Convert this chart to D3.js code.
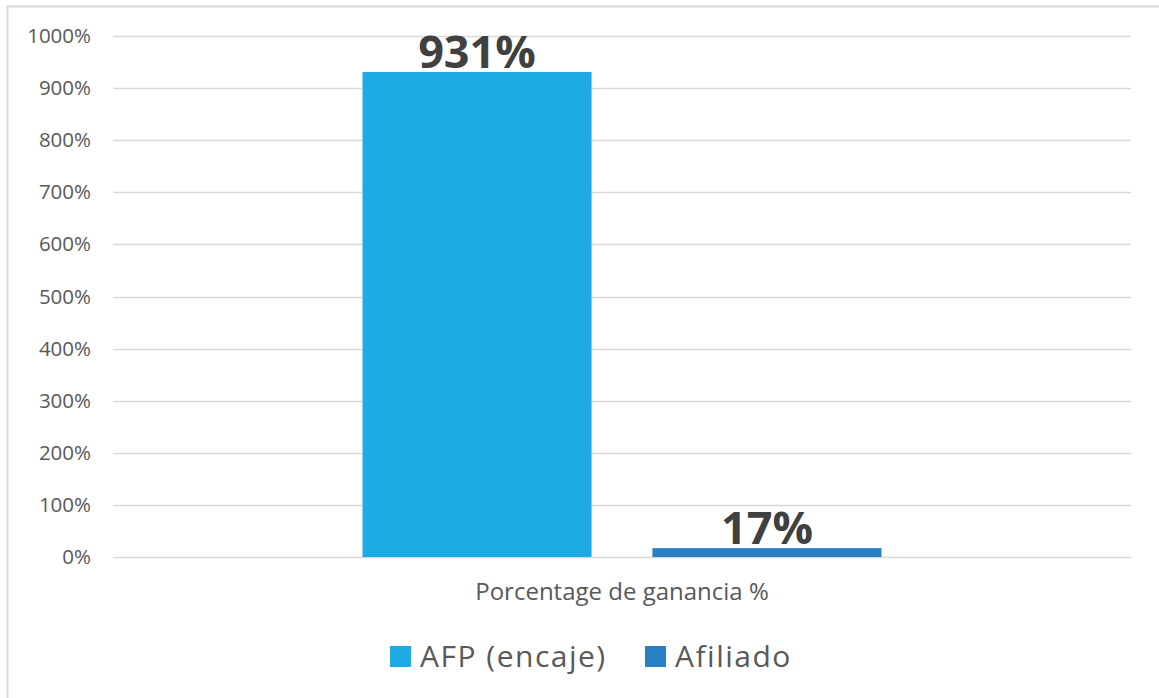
<!DOCTYPE html>
<html>
<head>
<meta charset="utf-8">
<script src="https://cdn.jsdelivr.net/npm/d3@7"></script>
<style>
  body { margin: 0; background: #fff; }
  text { font-family: "Open Sans", sans-serif; }
</style>
</head>
<body>
<svg width="1159" height="698"></svg>
<script>
var categories = ["Porcentage de ganancia %"];
var series = ["AFP (encaje)", "Afiliado"];
var values = [931, 17];
var colors = ["#1EABE3", "#2581C4"];
var yTicks = [0, 100, 200, 300, 400, 500, 600, 700, 800, 900, 1000];

var svg = d3.select("svg"),
    width = +svg.attr("width"),
    height = +svg.attr("height");

var plotLeft = 113, plotRight = 1131, plotTop = 36, plotBottom = 557;

// chart frame
svg.append("rect")
    .attr("x", 7.5).attr("y", 6.5)
    .attr("width", width).attr("height", height)
    .attr("fill", "none")
    .attr("stroke", "#d9d9d9")
    .attr("stroke-width", 2);

var y = d3.scaleLinear().domain([0, 1000]).range([plotBottom, plotTop]);

var x0 = d3.scaleBand()
    .domain(categories)
    .range([plotLeft, plotRight])
    .paddingOuter(0.4807);

var x1 = d3.scaleBand()
    .domain(series)
    .range([0, x0.bandwidth()])
    .paddingInner(0.21);

// gridlines
svg.append("g")
    .selectAll("line")
    .data(yTicks)
    .enter().append("line")
    .attr("x1", plotLeft).attr("x2", plotRight)
    .attr("y1", function(d) { return Math.round(y(d)) + 0.5; })
    .attr("y2", function(d) { return Math.round(y(d)) + 0.5; })
    .attr("stroke", "#d9d9d9")
    .attr("stroke-width", 1.3);

// y axis labels
var yAxis = d3.axisLeft(y)
    .tickValues(yTicks)
    .tickSize(0)
    .tickPadding(0)
    .tickFormat(function(d) { return d + "%"; });

var gy = svg.append("g")
    .attr("transform", "translate(91,0)")
    .call(yAxis);
gy.select(".domain").remove();
gy.selectAll("text")
    .attr("font-family", "'Open Sans', sans-serif")
    .attr("font-size", 20.5)
    .attr("fill", "#595959");

var data = series.map(function(s, i) { return { cat: categories[0], name: s, value: values[i], color: colors[i] }; });

// bars
svg.append("g")
    .selectAll("rect")
    .data(data)
    .enter().append("rect")
    .attr("x", function(d) { return x0(d.cat) + x1(d.name); })
    .attr("y", function(d) { return y(d.value); })
    .attr("width", x1.bandwidth())
    .attr("height", function(d) { return y(0) - y(d.value); })
    .attr("fill", function(d) { return d.color; });

// value labels
svg.append("g")
    .selectAll("text")
    .data(data)
    .enter().append("text")
    .attr("x", function(d) { return x0(d.cat) + x1(d.name) + x1.bandwidth() / 2; })
    .attr("y", function(d) { return y(d.value) - 4; })
    .attr("text-anchor", "middle")
    .attr("font-size", 45)
    .attr("font-weight", "bold")
    .attr("fill", "#404040")
    .text(function(d) { return d.value + "%"; });

// category label
svg.append("text")
    .attr("x", x0(categories[0]) + x0.bandwidth() / 2)
    .attr("y", 600)
    .attr("text-anchor", "middle")
    .attr("font-size", 24)
    .attr("fill", "#595959")
    .text(categories[0]);

// legend
var legendX = [390, 645];
var legend = svg.append("g")
    .selectAll("g")
    .data(data)
    .enter().append("g")
    .attr("transform", function(d, i) { return "translate(" + legendX[i] + ",646)"; });

legend.append("rect")
    .attr("width", 21).attr("height", 21)
    .attr("fill", function(d) { return d.color; });

legend.append("text")
    .attr("x", 30)
    .attr("y", 21)
    .attr("font-size", 30)
    .attr("letter-spacing", 1.5)
    .attr("fill", "#595959")
    .text(function(d) { return d.name; });
</script>
</body>
</html>
